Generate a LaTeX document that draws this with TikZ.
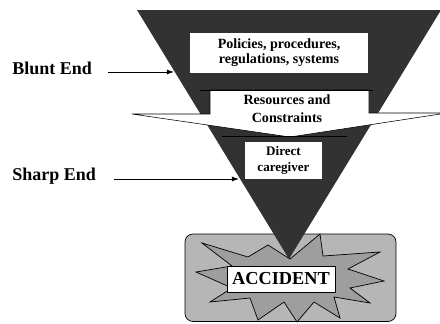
\documentclass[tikz,border=0pt]{standalone}
\usepackage{fontspec}
\setmainfont{Liberation Serif}
\usetikzlibrary{positioning,arrows.meta}
\definecolor{funnel}{RGB}{50,50,50}
\definecolor{boxgray}{RGB}{182,182,182}
\definecolor{stargray}{RGB}{158,158,158}
\tikzset{
  end label/.style={anchor=base west, inner sep=0pt, font=\bfseries\fontsize{12.8}{14}\selectfont},
  level box/.style={fill=white, inner sep=0pt, align=center},
  pointer/.style={-{Latex[length=5pt,width=3.5pt]}, line width=0.6pt}
}
\begin{document}
\begin{tikzpicture}[x=0.025cm,y=-0.025cm]
  \useasboundingbox (0,0) rectangle (440,323);
  % accident area
  \draw[fill=boxgray, rounded corners=0.2cm, line width=0.5pt] (185,234) rectangle (396,321.5);
  \draw[fill=stargray, line width=0.5pt] (202,243) -- (248,257) -- (268,245) -- (290,259)
    -- (320,234) -- (323,256) -- (380,252) -- (348,269) -- (384,281) -- (350,288)
    -- (370,303) -- (334,297) -- (340,318) -- (314,302) -- (297,322) -- (284,302)
    -- (258,320) -- (250,298) -- (210,302) -- (232,288) -- (196,272) -- (232,266) -- cycle;
  % funnel
  \fill[funnel] (137,10) -- (441,10) -- (289,259) -- cycle;
  \draw[fill=white, line width=0.4pt] (210,90) -- (369,90) -- (369,113) -- (447,113)
    -- (290,137) -- (132,114) -- (210,114) -- cycle;
  \draw[line width=0.6pt] (200,90) -- (373,90);
  \draw[line width=0.6pt] (222,136) -- (347,136);
  % boxes
  \node[level box, minimum width=4.45cm, minimum height=1cm,
    font=\bfseries\fontsize{10}{10.8}\selectfont] (policies) at (279,53)
    {Policies, procedures,\\regulations, systems};
  \node[align=center, inner sep=0pt, font=\bfseries\fontsize{10}{12.6}\selectfont]
    (resources) at (287,109) {Resources and\\Constraints};
  \node[level box, minimum width=1.925cm, minimum height=0.925cm,
    font=\bfseries\fontsize{9.3}{11.2}\selectfont] (caregiver) at (283.5,160.5)
    {Direct\\caregiver};
  \node[level box, draw, line width=0.5pt, minimum width=2.7cm, minimum height=0.65cm,
    font=\bfseries\fontsize{13}{15}\selectfont] (accident) at (281,279) {ACCIDENT};
  % labels
  \node[end label] (blunt) at (12,74) {Blunt End};
  \node[end label] (sharp) at (12,180.5) {Sharp End};
  \coordinate (bluntTip) at (174,72);
  \coordinate (sharpTip) at (239,179);
  \draw[pointer] ([xshift=0.4cm]blunt.east |- bluntTip) -- (bluntTip);
  \draw[pointer] ([xshift=0.45cm]sharp.east |- sharpTip) -- (sharpTip);
\end{tikzpicture}
\end{document}
